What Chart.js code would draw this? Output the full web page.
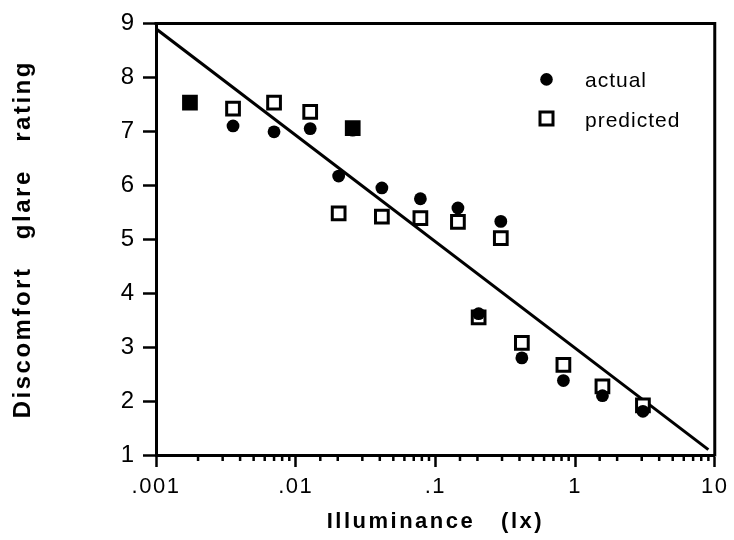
<!DOCTYPE html>
<html>
<head>
<meta charset="utf-8">
<script src="https://cdn.jsdelivr.net/npm/chart.js@4/dist/chart.umd.min.js"></script>
<style>
html,body{margin:0;padding:0;background:#fff;}
#wrap{width:734px;height:540px;position:relative;}
</style>
</head>
<body>
<div id="wrap"><canvas id="c" width="734" height="540"></canvas></div>
<script>
// ---- data ----
const illuminance     = [0.00175, 0.00356, 0.0070, 0.0127, 0.0203, 0.0256, 0.0414, 0.0781, 0.145, 0.204, 0.294, 0.416, 0.825, 1.57, 3.06];
const actualRating    = [7.53, 7.10, 6.99, 7.05, 6.17, 7.02, 5.95, 5.75, 5.58, 3.62, 5.33, 2.80, 2.38, 2.10, 1.81];
const predictedRating = [7.53, 7.42, 7.53, 7.36, 5.48, 7.06, 5.42, 5.39, 5.32, 3.55, 5.02, 3.08, 2.67, 2.27, 1.92];
const fitIlluminance  = [0.001, 9];
const fitRating       = [8.9, 1.1];
const xTickValues = [0.001, 0.01, 0.1, 1, 10];
const xTickLabels = ['.001', '.01', '.1', '1', '10'];
const yTickLabels = ['1', '2', '3', '4', '5', '6', '7', '8', '9'];
const seriesNames = ['actual', 'predicted'];
const xTitle = 'Illuminance   (lx)';
const yTitle = 'Discomfort   glare   rating';

const FONT = "'Liberation Sans', Arial, Helvetica, sans-serif";
const toPts = (xs, ys) => xs.map((x, i) => ({x: x, y: ys[i]}));
const isDecade = v => Math.abs(Math.log10(v) - Math.round(Math.log10(v))) < 1e-6;

function withSpacing(scale, method, spacing) {
  const orig = scale[method];
  scale[method] = function () {
    const ctx = this.ctx;
    ctx.save();
    ctx.letterSpacing = spacing;
    orig.apply(this, arguments);
    ctx.restore();
  };
}

const framePlugin = {
  id: 'frame',
  beforeDraw(chart) {
    ['x', 'y'].forEach(id => {
      const s = chart.scales[id];
      if (s && !s._spaced) {
        withSpacing(s, 'drawTitle', '2.5px');
        if (id === 'x') withSpacing(s, 'drawLabels', '1.5px');
        s._spaced = true;
      }
    });
  },
  afterDraw(chart) {
    const ctx = chart.ctx, a = chart.chartArea, xs = chart.scales.x;
    ctx.save();
    ctx.strokeStyle = '#000';
    ctx.lineWidth = 3;
    ctx.beginPath();
    ctx.moveTo(a.left - 1.5, a.top);
    ctx.lineTo(a.right, a.top);
    ctx.lineTo(a.right, a.bottom + 1.5);
    ctx.stroke();
    // minor ticks of the log axis
    ctx.lineWidth = 2.5;
    xs.ticks.forEach(t => {
      if (isDecade(t.value)) return;
      const px = xs.getPixelForValue(t.value);
      ctx.beginPath();
      ctx.moveTo(px, a.bottom);
      ctx.lineTo(px, a.bottom + 6);
      ctx.stroke();
    });
    // legend inside the plot
    const lx = a.left + 390.5;
    ctx.fillStyle = '#000';
    ctx.beginPath();
    ctx.arc(lx, a.top + 56, 6.3, 0, Math.PI * 2);
    ctx.fill();
    ctx.lineWidth = 3;
    ctx.fillStyle = '#fff';
    ctx.beginPath();
    ctx.rect(lx - 6.5, a.top + 95 - 6.5, 13, 13);
    ctx.fill();
    ctx.stroke();
    ctx.fillStyle = '#000';
    ctx.font = '21px ' + FONT;
    ctx.letterSpacing = '1px';
    ctx.textAlign = 'left';
    ctx.textBaseline = 'alphabetic';
    ctx.fillText(seriesNames[0], a.left + 429, a.top + 64);
    ctx.fillText(seriesNames[1], a.left + 429, a.top + 104);
    ctx.restore();
  }
};

new Chart(document.getElementById('c'), {
  type: 'scatter',
  data: {
    datasets: [
      {
        label: 'fit',
        data: toPts(fitIlluminance, fitRating),
        showLine: true,
        borderColor: '#000',
        borderWidth: 3,
        pointRadius: 0,
        fill: false,
        order: 3
      },
      {
        label: seriesNames[1],
        data: toPts(illuminance, predictedRating),
        pointStyle: 'rect',
        pointRadius: 9,
        pointBorderWidth: 3,
        borderColor: '#000',
        backgroundColor: ctx => {
          const i = ctx.dataIndex;
          return (i != null && Math.abs(predictedRating[i] - actualRating[i]) < 0.06) ? '#000' : '#fff';
        },
        order: 2
      },
      {
        label: seriesNames[0],
        data: toPts(illuminance, actualRating),
        pointStyle: 'circle',
        pointRadius: 6.4,
        pointBorderWidth: 0,
        borderColor: '#000',
        backgroundColor: '#000',
        order: 1
      }
    ]
  },
  options: {
    responsive: false,
    animation: false,
    events: [],
    layout: {padding: {left: 0, right: 18, top: 19, bottom: 0}},
    plugins: {legend: {display: false}, tooltip: {enabled: false}},
    scales: {
      x: {
        type: 'logarithmic',
        position: 'bottom',
        min: 0.001,
        max: 10,
        afterFit: s => { s.height = 85; },
        border: {display: true, color: '#000', width: 3},
        grid: {
          display: true,
          drawOnChartArea: false,
          drawTicks: true,
          tickLength: 12,
          tickWidth: 2.5,
          tickColor: ctx => (ctx.tick && isDecade(ctx.tick.value)) ? '#000' : 'rgba(0,0,0,0)'
        },
        ticks: {
          autoSkip: false,
          maxRotation: 0,
          padding: 7,
          color: '#000',
          font: {family: FONT, size: 22},
          callback: v => {
            const i = xTickValues.findIndex(t => Math.abs(t - v) / t < 1e-6);
            return i >= 0 ? xTickLabels[i] : '';
          }
        },
        title: {
          display: true,
          text: xTitle,
          color: '#000',
          font: {family: FONT, size: 22, weight: 'bold', lineHeight: 1},
          padding: {top: 0, bottom: 7}
        }
      },
      y: {
        type: 'linear',
        min: 1,
        max: 9,
        afterFit: s => { s.width = 156; },
        border: {display: true, color: '#000', width: 3},
        grid: {
          display: true,
          drawOnChartArea: false,
          drawTicks: true,
          tickLength: 13,
          tickWidth: 2.5,
          tickColor: '#000'
        },
        ticks: {
          stepSize: 1,
          padding: 9,
          color: '#000',
          font: {family: FONT, size: 24},
          callback: (v, i) => yTickLabels[i]
        },
        title: {
          display: true,
          text: yTitle,
          color: '#000',
          font: {family: FONT, size: 24, weight: 'bold', lineHeight: 1},
          padding: {top: 11, bottom: 0}
        }
      }
    }
  },
  plugins: [framePlugin]
});
</script>
</body>
</html>
